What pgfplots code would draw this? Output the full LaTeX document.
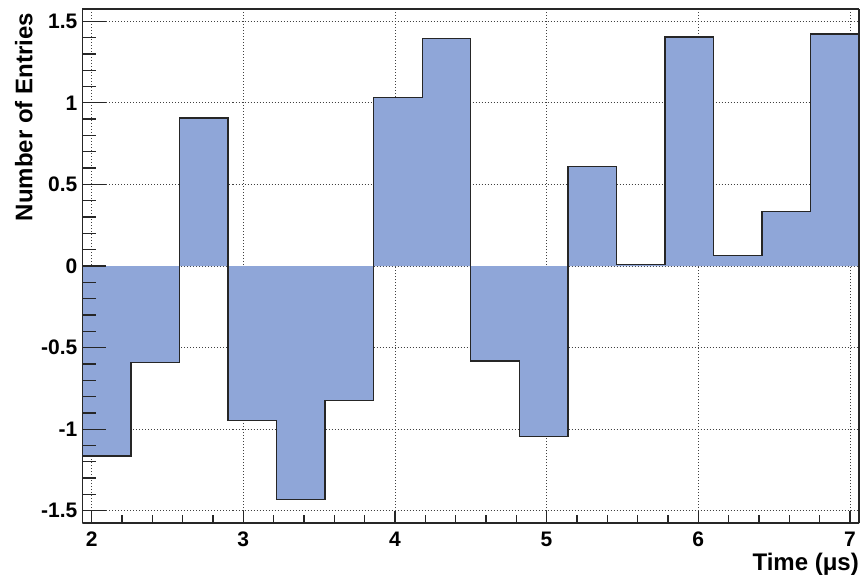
\documentclass[border=0pt]{standalone}
\usepackage{fontspec}
\setmainfont{Liberation Sans}
\usepackage{pgfplots}
\usepackage{pgfplotstable}
\pgfplotsset{compat=1.18}
\definecolor{histfill}{RGB}{143,166,216}

\pgfplotstableread{
x y
1.94 -1.165
2.26 -0.592
2.58 0.906
2.90 -0.947
3.22 -1.432
3.54 -0.824
3.86 1.033
4.18 1.394
4.50 -0.582
4.82 -1.046
5.14 0.609
5.46 0.008
5.78 1.404
6.10 0.066
6.42 0.335
6.74 1.422
7.06 1.422
}\histdata

\pgfplotsset{
  common/.style={
    scale only axis,
    width=776.5pt, height=514pt,
    xmin=1.94, xmax=7.06,
    ymin=-1.575, ymax=1.575,
    xtick={2,3,4,5,6,7},
    ytick={-1.5,-1,-0.5,0,0.5,1,1.5},
    minor x tick num=4,
    minor y tick num=4,
    tick align=inside,
    xtick pos=bottom, ytick pos=left,
    axis line style={line width=1.3pt, black!85},
    every tick/.style={line width=1.3pt, black!85},
  }
}

\begin{document}
\begin{tikzpicture}
\begin{axis}[
  common,
  axis line style={draw=none},
  major tick length=0pt, minor tick length=0pt,
  grid=major,
  major grid style={line width=0.8pt, black!75, dash pattern=on 1pt off 2pt},
  xticklabels={2,3,4,5,6,7},
  yticklabels={-1.5,-1,-0.5,0,0.5,1,1.5},
  tick label style={font=\fontsize{21}{24}\selectfont\bfseries},
  xticklabel style={anchor=north, inner sep=0pt, yshift=-9pt},
  yticklabel style={anchor=east, inner sep=0pt, xshift=-5pt},
  xlabel={Time (μs)},
  ylabel={Number of Entries},
  label style={font=\fontsize{24}{28}\selectfont\bfseries},
  xlabel style={at={(rel axis cs:1,0)}, anchor=base east, yshift=-47pt, xshift=0pt, inner sep=0pt},
  ylabel style={at={([xshift=-50pt,yshift=-4pt]rel axis cs:0,1)}, anchor=base east, inner sep=0pt},
]
\addplot[ybar interval, fill=histfill, draw=none] table[x=x, y=y] {\histdata};
\addplot[const plot, line width=1.4pt, black!85] table[x=x, y=y] {\histdata};
\end{axis}
% x ticks and bottom/top frame
\begin{axis}[
  common,
  hide y axis,
  major tick length=12pt, minor tick length=8pt,
  xticklabels={},
]
\end{axis}
% y ticks and left/right frame
\begin{axis}[
  common,
  hide x axis,
  major tick length=23pt, minor tick length=13pt,
  yticklabels={},
]
\end{axis}
\pgfresetboundingbox
\useasboundingbox ([shift={(-82.5pt,-59pt)}]current axis.south west) rectangle ([shift={(4pt,9pt)}]current axis.north east);
\end{tikzpicture}
\end{document}
